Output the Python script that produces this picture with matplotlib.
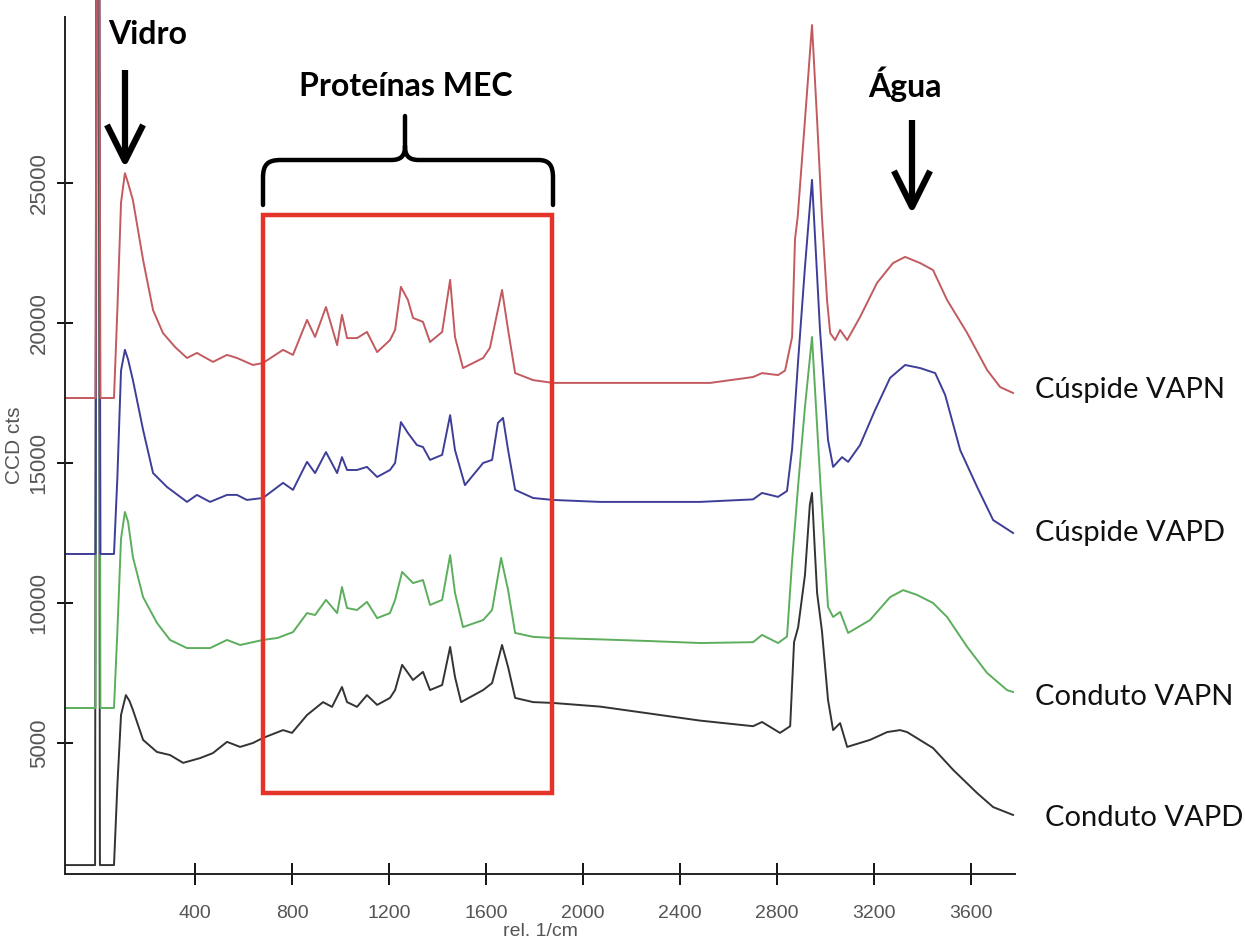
import numpy as np
import matplotlib
matplotlib.use("Agg")
import matplotlib.pyplot as plt
from matplotlib.patches import Rectangle, FancyArrowPatch, PathPatch
from matplotlib.path import Path

# Raman spectra: (rel. 1/cm, CCD cts)
cuspide_vapn = [(-136, 17320), (-10, 17320), (-4, 40000), (4, 40000), (10, 17320), (66, 17320),
    (80, 20500), (95, 24300), (111, 25350), (124, 25000), (144, 24390), (186, 22250), (227, 20460),
    (268, 19640), (318, 19140), (367, 18750), (408, 18930), (474, 18610), (532, 18860), (573, 18750),
    (639, 18500), (680, 18570), (763, 19040), (804, 18860), (862, 20110), (895, 19500), (940, 20570),
    (986, 19210), (1006, 20290), (1027, 19460), (1068, 19460), (1109, 19680), (1151, 18960),
    (1204, 19390), (1225, 19750), (1249, 21290), (1278, 20820), (1299, 20180), (1340, 20040),
    (1369, 19320), (1419, 19680), (1452, 21540), (1472, 19500), (1505, 18390), (1588, 18750),
    (1616, 19110), (1666, 21180), (1691, 19750), (1720, 18210), (1794, 17960), (1876, 17860),
    (2070, 17860), (2276, 17860), (2524, 17860), (2701, 18070), (2738, 18210), (2804, 18140),
    (2833, 18300), (2862, 19500), (2874, 23000), (2885, 23790), (2915, 27250), (2944, 30640),
    (2965, 27250), (2985, 23790), (3006, 20820), (3019, 19640), (3039, 19390), (3060, 19750),
    (3089, 19390), (3142, 20210), (3212, 21430), (3278, 22140), (3328, 22360), (3390, 22140),
    (3443, 21890), (3501, 20820), (3584, 19640), (3666, 18320), (3720, 17710), (3773, 17500)]

cuspide_vapd = [(-136, 11750), (-10, 11750), (-4, 40000), (4, 40000), (10, 11750), (66, 11750),
    (80, 14500), (95, 18300), (111, 19040), (124, 18700), (144, 17960), (186, 16180), (227, 14640),
    (285, 14140), (367, 13610), (408, 13860), (462, 13610), (532, 13860), (573, 13860), (614, 13680),
    (680, 13750), (763, 14290), (804, 14040), (862, 15040), (895, 14640), (940, 15390), (986, 14640),
    (1006, 15210), (1027, 14750), (1068, 14750), (1109, 14860), (1151, 14500), (1204, 14750),
    (1225, 15000), (1249, 16460), (1278, 16070), (1315, 15640), (1340, 15570), (1369, 15110),
    (1419, 15290), (1452, 16710), (1472, 15460), (1513, 14210), (1588, 15000), (1625, 15110),
    (1649, 16430), (1670, 16610), (1691, 15460), (1720, 14040), (1794, 13750), (1876, 13680),
    (2070, 13610), (2276, 13610), (2482, 13610), (2701, 13700), (2738, 13930), (2804, 13790),
    (2841, 14000), (2862, 15500), (2887, 18680), (2915, 22000), (2944, 25110), (2977, 19750),
    (3010, 15820), (3031, 14860), (3068, 15210), (3093, 15040), (3142, 15640), (3204, 16890),
    (3266, 18040), (3328, 18500), (3390, 18390), (3452, 18210), (3493, 17430), (3555, 15460),
    (3625, 14140), (3691, 12960), (3773, 12500)]

conduto_vapn = [(-136, 6250), (-10, 6250), (-4, 40000), (4, 40000), (10, 6250), (66, 6250),
    (80, 9000), (95, 12300), (111, 13250), (124, 12900), (144, 11640), (186, 10210), (243, 9290),
    (297, 8680), (367, 8390), (462, 8390), (532, 8680), (586, 8500), (680, 8680), (740, 8750),
    (804, 8960), (862, 9640), (895, 9570), (940, 10110), (986, 9640), (1006, 10570), (1027, 9820),
    (1068, 9750), (1109, 10040), (1151, 9460), (1204, 9640), (1225, 10110), (1254, 11110),
    (1299, 10710), (1340, 10820), (1369, 9930), (1419, 10110), (1452, 11710), (1472, 10360),
    (1505, 9140), (1588, 9390), (1625, 9750), (1662, 11610), (1691, 10460), (1720, 8930),
    (1794, 8790), (1876, 8750), (2070, 8700), (2276, 8640), (2482, 8570), (2701, 8600),
    (2738, 8860), (2804, 8570), (2841, 8800), (2862, 11500), (2887, 14210), (2915, 17000),
    (2944, 19500), (2977, 14500), (3010, 9860), (3031, 9500), (3060, 9680), (3093, 8930),
    (3183, 9390), (3266, 10210), (3320, 10460), (3377, 10290), (3443, 10000), (3501, 9500),
    (3584, 8430), (3666, 7500), (3748, 6890), (3773, 6820)]

conduto_vapd = [(-136, 640), (-12, 640), (-6, 40000), (2, 40000), (8, 640), (66, 640),
    (80, 3500), (95, 6000), (115, 6710), (130, 6500), (144, 6180), (186, 5110), (243, 4680),
    (297, 4570), (351, 4290), (421, 4460), (474, 4640), (532, 5040), (586, 4860), (639, 5000),
    (680, 5180), (763, 5460), (800, 5360), (862, 6000), (928, 6460), (965, 6290), (1006, 7000),
    (1027, 6460), (1068, 6290), (1109, 6710), (1151, 6360), (1204, 6610), (1225, 6890),
    (1254, 7790), (1299, 7250), (1340, 7540), (1369, 6890), (1419, 7070), (1452, 8430),
    (1472, 7360), (1497, 6460), (1588, 6890), (1625, 7140), (1666, 8500), (1691, 7710),
    (1720, 6610), (1794, 6460), (1876, 6430), (2070, 6300), (2276, 6050), (2482, 5800),
    (2701, 5600), (2738, 5750), (2812, 5360), (2854, 5600), (2870, 8600), (2887, 9140),
    (2915, 11000), (2935, 13500), (2944, 13930), (2955, 12000), (2965, 10360), (2985, 9000),
    (3010, 6540), (3031, 5460), (3060, 5710), (3089, 4860), (3183, 5110), (3254, 5390),
    (3307, 5460), (3336, 5390), (3443, 4820), (3526, 4040), (3625, 3210), (3691, 2710), (3773, 2430)]

series = [("Cúspide VAPN", cuspide_vapn, "#c25a60"),
          ("Cúspide VAPD", cuspide_vapd, "#3e3e98"),
          ("Conduto VAPN", conduto_vapn, "#5cae5c"),
          ("Conduto VAPD", conduto_vapd, "#333333")]
label_y = [390, 533, 697, 818]  # pixel rows of the right-hand labels
xticks = [400, 800, 1200, 1600, 2000, 2400, 2800, 3200, 3600]
yticks = [5000, 10000, 15000, 20000, 25000]
mec_box = (680, 3214, 1872, 23857)  # x0, y0, x1, y1 in data units

W, H = 1245, 946
def fp(x, y):
    return (x / W, 1 - y / H)

fig = plt.figure(figsize=(W / 100, H / 100), dpi=100)
ax = fig.add_axes([65 / W, 1 - 874 / H, 950 / W, 874 / H])
ax.set_xlim(-136, 3781)
ax.set_ylim(321, 31535)

# bottom trace first so the upper spectra sit on top of the laser-line spike
for name, data, col in series[::-1]:
    d = np.array(data, dtype=float)
    ax.plot(d[:, 0], d[:, 1], color=col, lw=1.4)

ax.add_patch(Rectangle((mec_box[0], mec_box[1]), mec_box[2] - mec_box[0], mec_box[3] - mec_box[1],
                       fill=False, ec="#e4342a", lw=3.2, zorder=5))

for s in ("top", "right"):
    ax.spines[s].set_visible(False)
for s in ("left", "bottom"):
    ax.spines[s].set_color("#222222"); ax.spines[s].set_linewidth(1.4)
ax.spines["left"].set_bounds(321, 30929)

ax.set_xticks(xticks)
ax.set_xticklabels([str(v) for v in xticks], fontsize=14, color="#555555", family="Liberation Sans")
ax.set_yticks(yticks)
ax.set_yticklabels([str(v) for v in yticks], fontsize=16, color="#555555", family="Liberation Sans",
                   rotation=90, va="center")
ax.tick_params(axis="x", direction="inout", length=16, width=1.3, pad=14)
ax.tick_params(axis="y", direction="inout", length=12, width=1.3, pad=5)
ax.set_xlabel("rel. 1/cm", fontsize=14, color="#555555", family="Liberation Sans")
ax.xaxis.set_label_coords(0.5, -0.056)
ax.set_ylabel("CCD cts", fontsize=15, color="#555555", family="Liberation Sans")
ax.yaxis.set_label_coords(-0.043, 0.49)

# annotations
bold = dict(family="Lato", fontweight="bold", fontsize=23, color="black")
fig.text(*fp(148, 35), "Vidro", ha="center", va="center", **bold)
fig.text(*fp(406, 87), "Proteínas MEC", ha="center", va="center", **bold)
fig.text(*fp(905, 84), "Água", ha="center", va="center", **bold)

for x0, y0, y1 in [(125, 70, 168), (912, 120, 214)]:
    arr = FancyArrowPatch(fp(x0, y0), fp(x0, y1), transform=fig.transFigure,
                          arrowstyle="->,head_length=1.3,head_width=0.65", mutation_scale=20,
                          lw=4.5, color="black", shrinkA=0, shrinkB=0, capstyle="butt")
    fig.add_artist(arr)

# curly brace over the MEC region
verts = [fp(263, 205), fp(263, 178), fp(263, 164), fp(268, 160), fp(281, 160), fp(391, 160),
         fp(401, 160), fp(405, 156), fp(405, 146), fp(405, 116),
         fp(405, 146), fp(405, 156), fp(409, 160), fp(419, 160), fp(538, 160),
         fp(549, 160), fp(553, 165), fp(553, 178), fp(553, 205)]
codes = [Path.MOVETO, Path.LINETO, Path.CURVE4, Path.CURVE4, Path.CURVE4, Path.LINETO,
         Path.CURVE4, Path.CURVE4, Path.CURVE4, Path.LINETO,
         Path.MOVETO, Path.CURVE4, Path.CURVE4, Path.CURVE4, Path.LINETO,
         Path.CURVE4, Path.CURVE4, Path.CURVE4, Path.LINETO]
fig.add_artist(PathPatch(Path(verts, codes), transform=fig.transFigure, fill=False,
                         lw=3.2, ec="black", capstyle="round", joinstyle="round"))

for (name, data, col), ly in zip(series, label_y):
    lx = 1045 if name == "Conduto VAPD" else 1035
    fig.text(*fp(lx, ly), name, ha="left", va="center", family="Lato", fontsize=21, color="#111111")

fig.savefig("out.png", dpi=100, facecolor="white")
